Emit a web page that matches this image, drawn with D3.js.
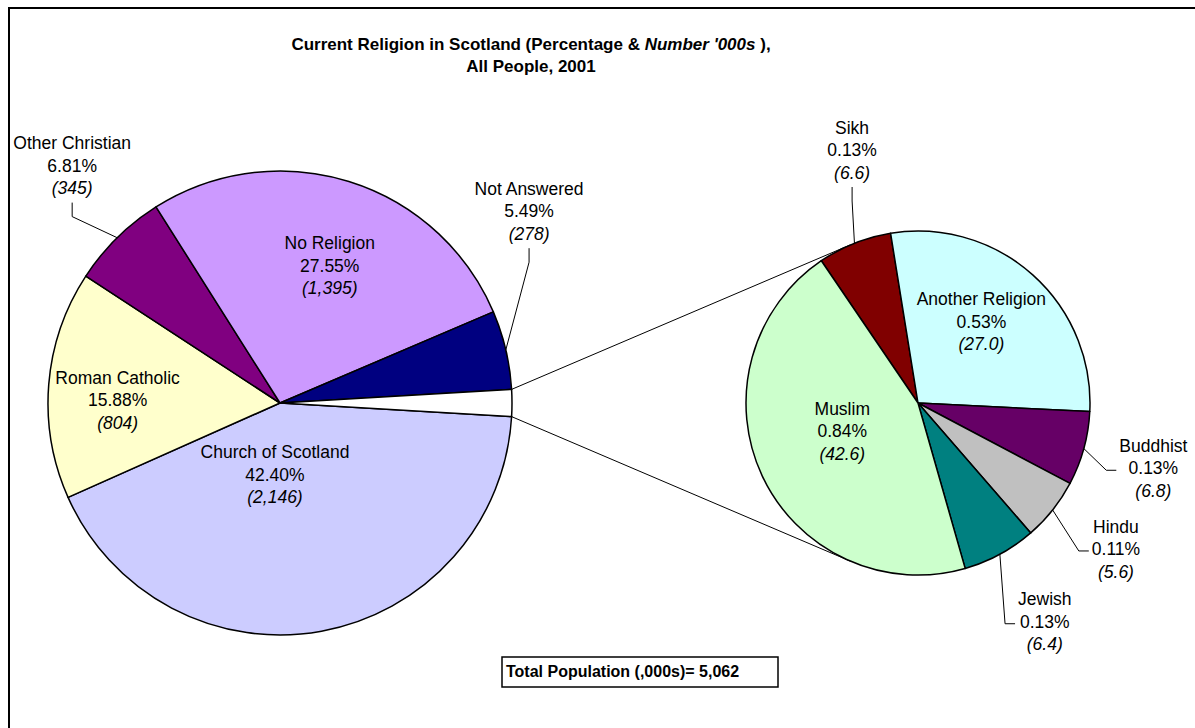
<!DOCTYPE html>
<html>
<head>
<meta charset="utf-8">
<script src="https://cdn.jsdelivr.net/npm/d3@7"></script>
<style>
body { margin: 0; background: #fff; }
text { font-family: "Liberation Sans", Arial, sans-serif; fill: #000; }
</style>
</head>
<body>
<div id="chart"></div>
<script>
// main pie (percent of all people, number in '000s)
const mainCats = ["Church of Scotland", "Roman Catholic", "Other Christian", "No Religion", "Not Answered", "Other"];
const mainPct = [42.40, 15.88, 6.81, 27.55, 5.49, 1.87];
const mainNum = [2146, 804, 345, 1395, 278, 95];
const mainColors = ["#CCCCFF", "#FFFFCC", "#800080", "#CC99FF", "#000080", "#FFFFFF"];

// second pie, the split of "Other"
const subCats = ["Sikh", "Another Religion", "Buddhist", "Hindu", "Jewish", "Muslim"];
const subPct = [0.13, 0.53, 0.13, 0.11, 0.13, 0.84];
const subNum = [6.6, 27.0, 6.8, 5.6, 6.4, 42.6];
const subColors = ["#800000", "#CCFFFF", "#660066", "#C0C0C0", "#008080", "#CCFFCC"];

const totalPop = 5062;

const svgWidth = 1195, svgHeight = 728;
const deg = Math.PI / 180;

const svg = d3.select("#chart").append("svg")
  .attr("width", svgWidth)
  .attr("height", svgHeight);

// chart area border (left + top only visible)
svg.append("path")
  .attr("d", `M9,${svgHeight} V8 H${svgWidth}`)
  .attr("fill", "none")
  .attr("stroke", "#000")
  .attr("stroke-width", 2);

// title
const title = svg.append("text")
  .attr("x", 531)
  .attr("y", 50)
  .attr("text-anchor", "middle")
  .style("font-size", "17px")
  .style("font-weight", "bold");
title.append("tspan").text("Current Religion in Scotland (Percentage & ");
title.append("tspan").style("font-style", "italic").text("Number '000s");
title.append("tspan").text(" ),");
svg.append("text")
  .attr("x", 531)
  .attr("y", 72)
  .attr("text-anchor", "middle")
  .style("font-size", "17px")
  .style("font-weight", "bold")
  .text("All People, 2001");

const mainC = {x: 280, y: 403, r: 232};
const subC = {x: 918, y: 403, r: 172};

function polar(c, a, rr) {
  return [c.x + rr * Math.sin(a), c.y - rr * Math.cos(a)];
}

// main pie: "Other" slice centred on 3 o'clock, others clockwise after it
const otherAngle = mainPct[mainPct.length - 1] / d3.sum(mainPct) * 2 * Math.PI;
const mainStart = Math.PI / 2 + otherAngle / 2;
const mainArcs = d3.pie().sort(null).value(d => d)
  .startAngle(mainStart).endAngle(mainStart + 2 * Math.PI)(mainPct);

const subStart = -34.2 * deg;
const subArcs = d3.pie().sort(null).value(d => d)
  .startAngle(subStart).endAngle(subStart + 2 * Math.PI)(subPct);

// connector lines: from the corners of "Other" to tangents of the second pie
const otherArc = mainArcs[mainArcs.length - 1];
function tangentPoint(p, c, upper) {
  const dx = p[0] - c.x, dy = p[1] - c.y;
  const d = Math.hypot(dx, dy);
  const phi = Math.atan2(dy, dx);
  const alpha = Math.acos(c.r / d);
  const t1 = [c.x + c.r * Math.cos(phi + alpha), c.y + c.r * Math.sin(phi + alpha)];
  const t2 = [c.x + c.r * Math.cos(phi - alpha), c.y + c.r * Math.sin(phi - alpha)];
  if (upper) return t1[1] < t2[1] ? t1 : t2;
  return t1[1] > t2[1] ? t1 : t2;
}
const cornerTop = polar(mainC, otherArc.startAngle, mainC.r);
const cornerBot = polar(mainC, otherArc.endAngle, mainC.r);
[[cornerTop, true], [cornerBot, false]].forEach(([p, up]) => {
  const t = tangentPoint(p, subC, up);
  svg.append("line")
    .attr("x1", p[0]).attr("y1", p[1])
    .attr("x2", t[0]).attr("y2", t[1])
    .attr("stroke", "#000")
    .attr("stroke-width", 1);
});

const mainArc = d3.arc().innerRadius(0).outerRadius(mainC.r);
const subArc = d3.arc().innerRadius(0).outerRadius(subC.r);

svg.append("g")
  .attr("transform", `translate(${mainC.x},${mainC.y})`)
  .selectAll("path")
  .data(mainArcs)
  .enter()
  .append("path")
  .attr("d", mainArc)
  .attr("fill", (d, i) => mainColors[i])
  .attr("stroke", "#000")
  .attr("stroke-width", 1.5)
  .attr("stroke-linejoin", "round");

svg.append("g")
  .attr("transform", `translate(${subC.x},${subC.y})`)
  .selectAll("path")
  .data(subArcs)
  .enter()
  .append("path")
  .attr("d", subArc)
  .attr("fill", (d, i) => subColors[i])
  .attr("stroke", "#000")
  .attr("stroke-width", 1.5)
  .attr("stroke-linejoin", "round");

// label placement: angle (deg, clockwise from 12) and radius factor, optional leader side
const mainLabelPos = [
  {a: 184, k: 0.31},
  {a: 271, k: 0.70},
  {a: 318.8, k: 1.36, leader: "bottom"},
  {a: 19.9, k: 0.63},
  {a: 52.4, k: 1.355, leader: "bottom"},
  null
];
const subLabelPos = [
  {a: 345.4, k: 1.52, leader: "bottom"},
  {a: 37.9, k: 0.60},
  {a: 105.5, k: 1.42, leader: "left"},
  {a: 126.4, k: 1.43, leader: "left"},
  {a: 149.9, k: 1.47, leader: "left"},
  {a: 249.5, k: 0.47}
];

const lineH = 22.5;
const fmtPct = d3.format(".2f");

function drawLabel(c, arcD, pos, name, pct, numText) {
  if (!pos) return;
  const [lx, ly] = polar(c, pos.a * deg, pos.k * c.r);
  const g = svg.append("g");
  const lines = [
    {t: name, dy: -lineH, it: false},
    {t: fmtPct(pct) + "%", dy: 0, it: false},
    {t: "(" + numText + ")", dy: lineH, it: true}
  ];
  let maxW = 0;
  lines.forEach(l => {
    const t = g.append("text")
      .attr("x", lx)
      .attr("y", ly + l.dy)
      .attr("dy", "0.35em")
      .attr("text-anchor", "middle")
      .style("font-size", "17.5px")
      .style("font-style", l.it ? "italic" : "normal")
      .text(l.t);
    maxW = Math.max(maxW, t.node().getComputedTextLength());
  });
  if (!pos.leader) return;
  const mid = (arcD.startAngle + arcD.endAngle) / 2;
  const rim = polar(c, mid, c.r);
  let elbow, end;
  if (pos.leader === "bottom") {
    end = [lx, ly + 37];
    elbow = [lx, ly + 51];
  } else {
    end = [lx - maxW / 2 - 3, ly + 2];
    elbow = [end[0] - 10, end[1]];
  }
  svg.append("path")
    .attr("d", `M${rim[0]},${rim[1]} L${elbow[0]},${elbow[1]} L${end[0]},${end[1]}`)
    .attr("fill", "none")
    .attr("stroke", "#000")
    .attr("stroke-width", 1);
}

const fmtK = d3.format(",");
const fmtSub = d3.format(".1f");
mainArcs.forEach((d, i) => drawLabel(mainC, d, mainLabelPos[i], mainCats[i], mainPct[i], fmtK(mainNum[i])));
subArcs.forEach((d, i) => drawLabel(subC, d, subLabelPos[i], subCats[i], subPct[i], fmtSub(subNum[i])));

// total population box
svg.append("rect")
  .attr("x", 502)
  .attr("y", 657)
  .attr("width", 276)
  .attr("height", 30)
  .attr("fill", "#fff")
  .attr("stroke", "#000")
  .attr("stroke-width", 1.5);
svg.append("text")
  .attr("x", 506)
  .attr("y", 677)
  .style("font-size", "16px")
  .style("font-weight", "bold")
  .text("Total Population (,000s)= " + fmtK(totalPop));
</script>
</body>
</html>
